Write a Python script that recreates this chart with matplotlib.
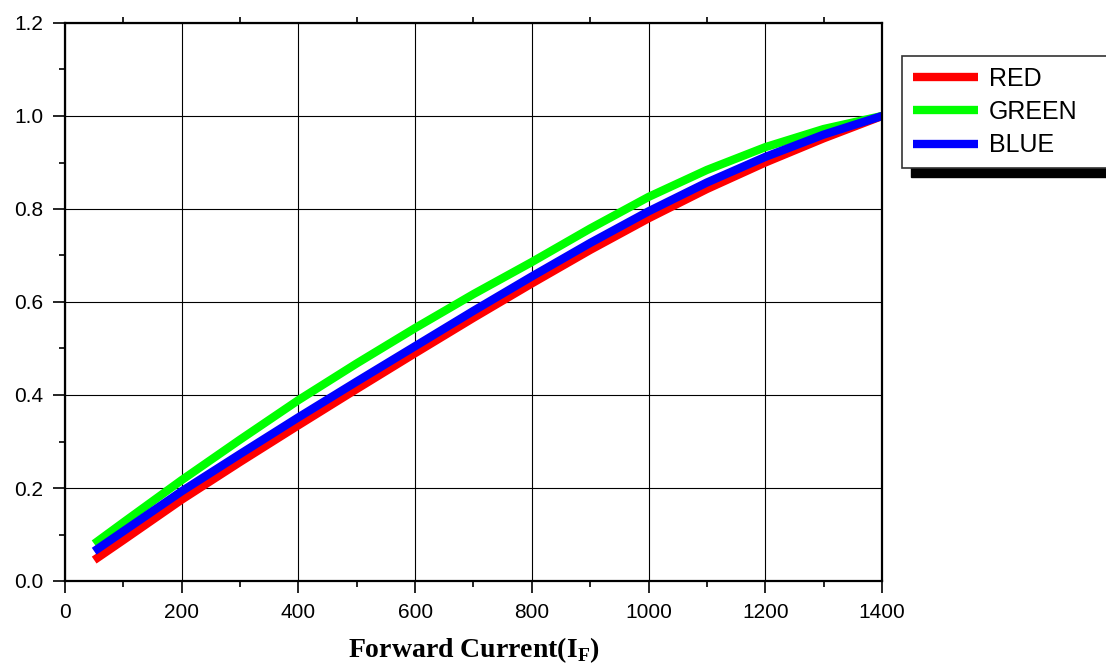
import matplotlib.pyplot as plt
from matplotlib.patches import Rectangle
from matplotlib.ticker import MultipleLocator

current = [50, 100, 200, 300, 400, 500, 600, 700, 800, 900, 1000, 1100, 1200, 1300, 1400]
red = [0.045, 0.088, 0.175, 0.256, 0.335, 0.413, 0.490, 0.566, 0.640, 0.712, 0.780, 0.843, 0.900, 0.952, 1.0]
green = [0.080, 0.126, 0.217, 0.304, 0.389, 0.468, 0.544, 0.617, 0.686, 0.758, 0.826, 0.884, 0.933, 0.972, 1.0]
blue = [0.064, 0.107, 0.193, 0.273, 0.352, 0.429, 0.505, 0.581, 0.655, 0.727, 0.795, 0.857, 0.912, 0.960, 1.0]
names = ['RED', 'GREEN', 'BLUE']
colors = ['#ff0000', '#00ff00', '#0000ff']

plt.rcParams['font.family'] = ['Liberation Sans', 'DejaVu Sans']
plt.rcParams['mathtext.fontset'] = 'custom'
plt.rcParams['mathtext.bf'] = 'Liberation Serif:bold'
plt.rcParams['mathtext.rm'] = 'Liberation Serif:bold'

fig = plt.figure(figsize=(11.06, 6.66), dpi=100)
ax = fig.add_axes([65/1106, 85/666, 817/1106, 558/666])

for vals, name, c in zip([red, green, blue], names, colors):
    ax.plot(current, vals, color=c, lw=6, label=name, solid_capstyle='butt', solid_joinstyle='round')

ax.set_xlim(0, 1400)
ax.set_ylim(0, 1.2)
ax.xaxis.set_major_locator(MultipleLocator(200))
ax.xaxis.set_minor_locator(MultipleLocator(100))
ax.yaxis.set_major_locator(MultipleLocator(0.2))
ax.yaxis.set_minor_locator(MultipleLocator(0.1))
ax.yaxis.set_major_formatter(lambda v, p: '%.1f' % v)
ax.grid(True, which='major', color='black', lw=0.8)
ax.set_axisbelow(True)

for s in ax.spines.values():
    s.set_linewidth(1.6)
ax.tick_params(which='major', direction='out', length=8.5, width=1.2, labelsize=15, pad=7, top=False, right=False)
ax.tick_params(which='minor', direction='out', length=4, width=1.2, top=True, right=False)

ax.set_xlabel(r'Forward Current(I$_\mathrm{F}$)', family='Liberation Serif', weight='bold',
              fontsize=20, labelpad=10)

# legend sticks out past the right edge, like the original
leg = fig.legend(loc='upper left', bbox_to_anchor=(902/1106, 1 - 56/666, 0.25, 0), mode='expand',
                 borderaxespad=0, fancybox=False, edgecolor='#333333', framealpha=1,
                 fontsize=18, handlelength=2.6, handletextpad=0.45, labelspacing=0.38, borderpad=0.42)
leg.get_frame().set_linewidth(1.2)
leg.set_zorder(5)
fig.patches.append(Rectangle((911/1106, 1 - 177/666), 0.3, 100/666, transform=fig.transFigure,
                             color='black', zorder=4))

fig.savefig('out.png', dpi=100)
